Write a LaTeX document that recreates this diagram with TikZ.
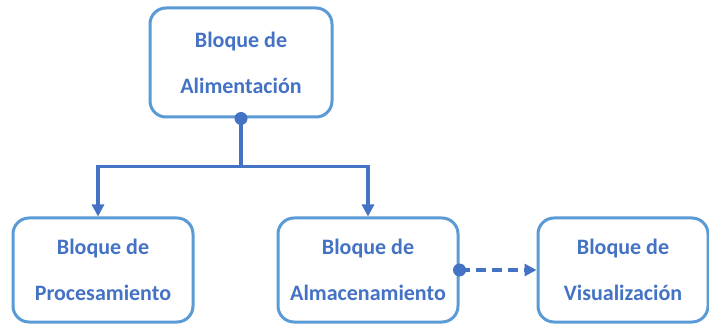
\documentclass[tikz,border=0pt]{standalone}
\usepackage{fontspec}
\setmainfont{Carlito}
\usetikzlibrary{arrows.meta,calc}
\definecolor{boxblue}{RGB}{91,155,213}
\definecolor{txtblue}{RGB}{68,114,196}
\begin{document}
\begin{tikzpicture}[x=1pt,y=1pt,
  blk/.style={draw=boxblue, line width=3pt, rounded corners=16pt, fill=white,
    text=txtblue, font=\fontsize{22}{46}\selectfont\bfseries, align=center, inner sep=0pt},
  conn/.style={draw=txtblue, line width=3.2pt},
  tipend/.style={-{Triangle[width=12pt,length=12pt]}}]
\useasboundingbox (0,0) rectangle (709,324);
\node[blk, minimum width=182pt, minimum height=109pt] (ali) at (241,261.5) {Bloque de\\Alimentación};
\node[blk, minimum width=180pt, minimum height=104pt] (proc) at (103,54) {Bloque de\\Procesamiento};
\node[blk, minimum width=180pt, minimum height=104pt] (alm) at (368,54) {Bloque de\\Almacenamiento};
\node[blk, minimum width=170pt, minimum height=104pt] (vis) at (623,54) {Bloque de\\Visualización};
\draw[conn,tipend] (ali.south) -- ++(0,-48) coordinate (j) -| ([xshift=-5pt]proc.north);
\draw[conn,tipend] (j) -| (alm.north);
\fill[txtblue] (ali.south) circle (6.5pt);
\draw[conn,tipend,dash pattern=on 10pt off 6pt] (alm.east) -- (vis.west);
\fill[txtblue] (alm.east) circle (6.5pt);
\end{tikzpicture}
\end{document}
